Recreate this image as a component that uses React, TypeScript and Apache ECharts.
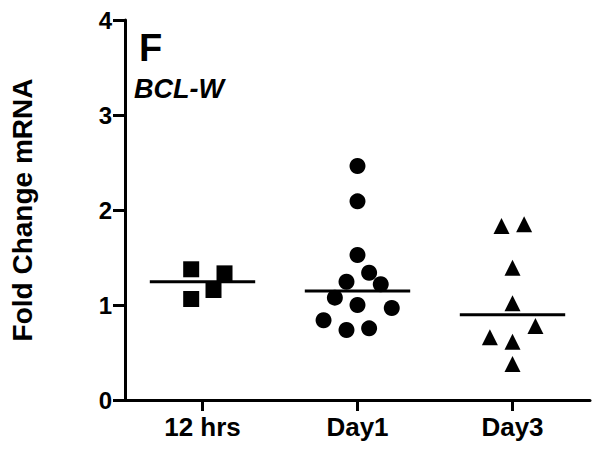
import React, { useEffect, useRef } from "react";
import * as echarts from "echarts";

const categories = ["12 hrs", "Day1", "Day3"];
const yTicks = [0, 1, 2, 3, 4];

const hrs12Values = [1.376, 1.333, 1.158, 1.063];
const hrs12Jitter = [-0.073, 0.142, 0.071, -0.073];

const day1Values = [2.463, 2.091, 1.526, 1.34, 1.245, 1.218, 1.077, 1.0, 0.968, 0.839, 0.737, 0.754];
const day1Jitter = [0, 0, 0, 0.075, -0.071, 0.15, -0.146, 0, 0.221, -0.219, -0.071, 0.075];

const day3Values = [1.832, 1.849, 1.393, 1.018, 0.779, 0.66, 0.614, 0.379];
const day3Jitter = [-0.071, 0.075, 0, 0, 0.148, -0.146, 0, 0];

const FONT = "'Liberation Sans', Arial, sans-serif";

function median(arr: number[]): number {
  const s = [...arr].sort((a, b) => a - b);
  const n = s.length;
  return n % 2 ? s[(n - 1) / 2] : (s[n / 2 - 1] + s[n / 2]) / 2;
}

function points(values: number[], jitter: number[], idx: number) {
  return values.map((v, i) => [idx + jitter[i], v]);
}

export default function App() {
  const ref = useRef<HTMLDivElement>(null);
  useEffect(() => {
    if (!ref.current) return;
    const chart = echarts.init(ref.current, undefined, { renderer: "svg" });
    const medians = [median(hrs12Values), median(day1Values), median(day3Values)];
    const markStyle = { color: "#000", opacity: 1 };
    chart.setOption({
      animation: false,
      backgroundColor: "#fff",
      grid: { left: 125, right: 12, top: 20, bottom: 57, containLabel: false },
      graphic: [
        {
          type: "text",
          x: 139,
          y: 67,
          style: { text: "F", font: `bold 38px ${FONT}`, fill: "#000", textVerticalAlign: "bottom" },
        },
        {
          type: "text",
          x: 134,
          y: 102,
          style: {
            text: "BCL-W",
            font: `italic bold 27px ${FONT}`,
            fill: "#000",
            textVerticalAlign: "bottom",
          },
        },
      ],
      xAxis: [
        {
          type: "category",
          data: categories,
          boundaryGap: true,
          axisLine: { show: true, onZero: false, lineStyle: { color: "#000", width: 3 } },
          axisTick: { show: true, alignWithLabel: true, length: 11, lineStyle: { color: "#000", width: 3 } },
          axisLabel: { color: "#000", fontFamily: FONT, fontWeight: "bold", fontSize: 26, margin: 14 },
          splitLine: { show: false },
        },
        { type: "value", min: -0.5, max: 2.5, show: false },
      ],
      yAxis: {
        type: "value",
        min: 0,
        max: 4,
        interval: 1,
        name: "Fold Change mRNA",
        nameLocation: "middle",
        nameGap: 89,
        nameTextStyle: { color: "#000", fontFamily: FONT, fontWeight: "bold", fontSize: 28 },
        axisLine: { show: true, onZero: false, lineStyle: { color: "#000", width: 3 } },
        axisTick: { show: true, length: 12, lineStyle: { color: "#000", width: 3 } },
        axisLabel: {
          color: "#000",
          fontFamily: FONT,
          fontWeight: "bold",
          fontSize: 24,
          margin: 13,
          formatter: (v: number) => (yTicks.includes(v) ? String(v) : ""),
        },
        splitLine: { show: false },
      },
      series: [
        {
          type: "scatter",
          xAxisIndex: 1,
          symbol: "rect",
          symbolSize: 16,
          itemStyle: markStyle,
          data: points(hrs12Values, hrs12Jitter, 0),
        },
        {
          type: "scatter",
          xAxisIndex: 1,
          symbol: "circle",
          symbolSize: 16,
          itemStyle: markStyle,
          data: points(day1Values, day1Jitter, 1),
        },
        {
          type: "scatter",
          xAxisIndex: 1,
          symbol: "triangle",
          symbolSize: 16,
          itemStyle: markStyle,
          data: points(day3Values, day3Jitter, 2),
        },
        {
          type: "custom",
          xAxisIndex: 1,
          data: medians.map((m, i) => [i, m]),
          renderItem: (params: any, api: any) => {
            const c = api.coord([api.value(0), api.value(1)]);
            const w = api.size([0.68, 0])[0];
            return {
              type: "line",
              shape: { x1: c[0] - w / 2, y1: c[1], x2: c[0] + w / 2, y2: c[1] },
              style: { stroke: "#000", lineWidth: 3 },
            };
          },
        },
      ],
    });
    return () => chart.dispose();
  }, []);
  return (
    <div
      ref={ref}
      style={{ position: "fixed", left: 0, top: 0, width: 602, height: 457, background: "#fff" }}
    />
  );
}
